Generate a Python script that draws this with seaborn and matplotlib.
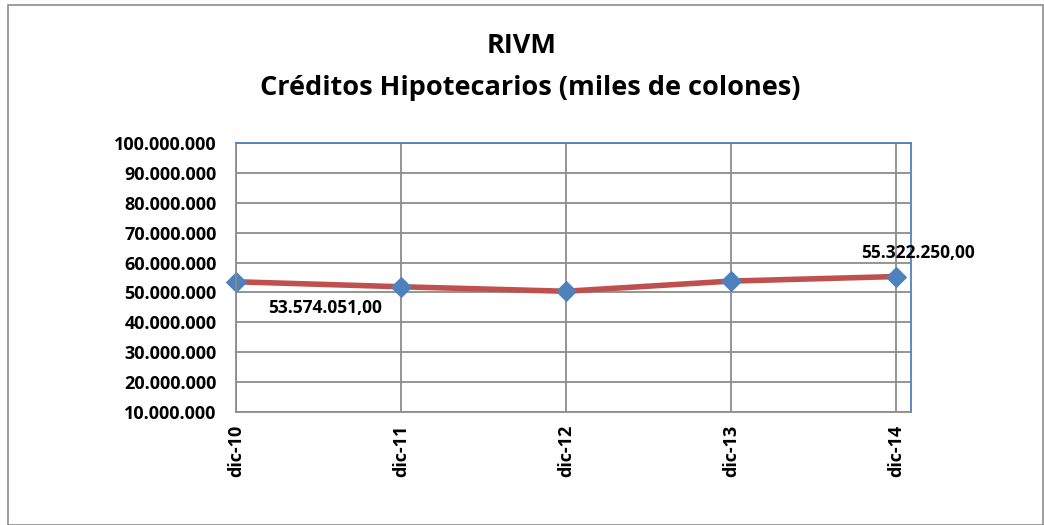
import matplotlib
matplotlib.use("Agg")
import matplotlib.pyplot as plt
import matplotlib.ticker as mticker
import seaborn as sns
import pandas as pd

# Data
periodos = ["dic-10", "dic-11", "dic-12", "dic-13", "dic-14"]
creditos = [53574051.00, 51900000.00, 50400000.00, 53800000.00, 55322250.00]

df = pd.DataFrame({"periodo": periodos, "creditos": creditos})

sns.set_style("white")
plt.rcParams['font.family'] = ['Open Sans', 'DejaVu Sans']
plt.rcParams['text.color'] = 'black'
plt.rcParams['xtick.labelcolor'] = 'black'
plt.rcParams['ytick.labelcolor'] = 'black'

fig = plt.figure(figsize=(10.44, 5.25), dpi=100)
ax = fig.add_axes([236/1044, 1-412/525, (911-236)/1044, (412-143)/525])

# Outer chart border
fig.patches.append(plt.Rectangle((8/1044, 0.0), 1-8/1044-0.001, 1-5/525,
                                 transform=fig.transFigure, fill=False,
                                 edgecolor="#8c8c8c", linewidth=1.2))

sns.lineplot(data=df, x="periodo", y="creditos", ax=ax, color="#C0504D",
             linewidth=4, marker="D", markersize=10, markerfacecolor="#4F81BD",
             markeredgecolor="#4F81BD", sort=False, clip_on=False)

ax.set_xlim(0, 4.09)
ax.set_ylim(10000000, 100000000)
ax.yaxis.set_major_locator(mticker.MultipleLocator(10000000))
ax.yaxis.set_major_formatter(mticker.FuncFormatter(lambda v, p: f"{int(v):,}".replace(",", ".")))

ax.grid(True, color="#8c8c8c", linewidth=1.3)
ax.set_axisbelow(True)
ax.set_xlabel("")
ax.set_ylabel("")

for s in ["left", "bottom"]:
    ax.spines[s].set_color("#8c8c8c")
    ax.spines[s].set_linewidth(1.3)
for s in ["top", "right"]:
    ax.spines[s].set_color("#4F81BD")
    ax.spines[s].set_linewidth(1.3)

ax.tick_params(axis="both", which="both", direction="out", length=6, width=1.2,
               color="#8c8c8c")
ax.tick_params(axis="y", labelsize=13, pad=8)
ax.tick_params(axis="x", labelsize=13, rotation=90, pad=3)
for lab in ax.get_xticklabels() + ax.get_yticklabels():
    lab.set_fontweight("bold")

# Data labels
ax.annotate("53.574.051,00", xy=(0, creditos[0]), xytext=(64, -19),
            textcoords="offset points", ha="center", va="center",
            fontsize=12.5, fontweight="bold")
ax.annotate("55.322.250,00", xy=(4, creditos[4]), xytext=(16, 17),
            textcoords="offset points", ha="center", va="center",
            fontsize=12.5, fontweight="bold")

fig.text(522/1044, 1-46/525, "RIVM", ha="center", va="center",
         fontsize=19.5, fontweight="bold")
fig.text(530/1044, 1-88/525, "Créditos Hipotecarios (miles de colones)",
         ha="center", va="center", fontsize=19.5, fontweight="bold")

fig.savefig("out.png", dpi=100)
